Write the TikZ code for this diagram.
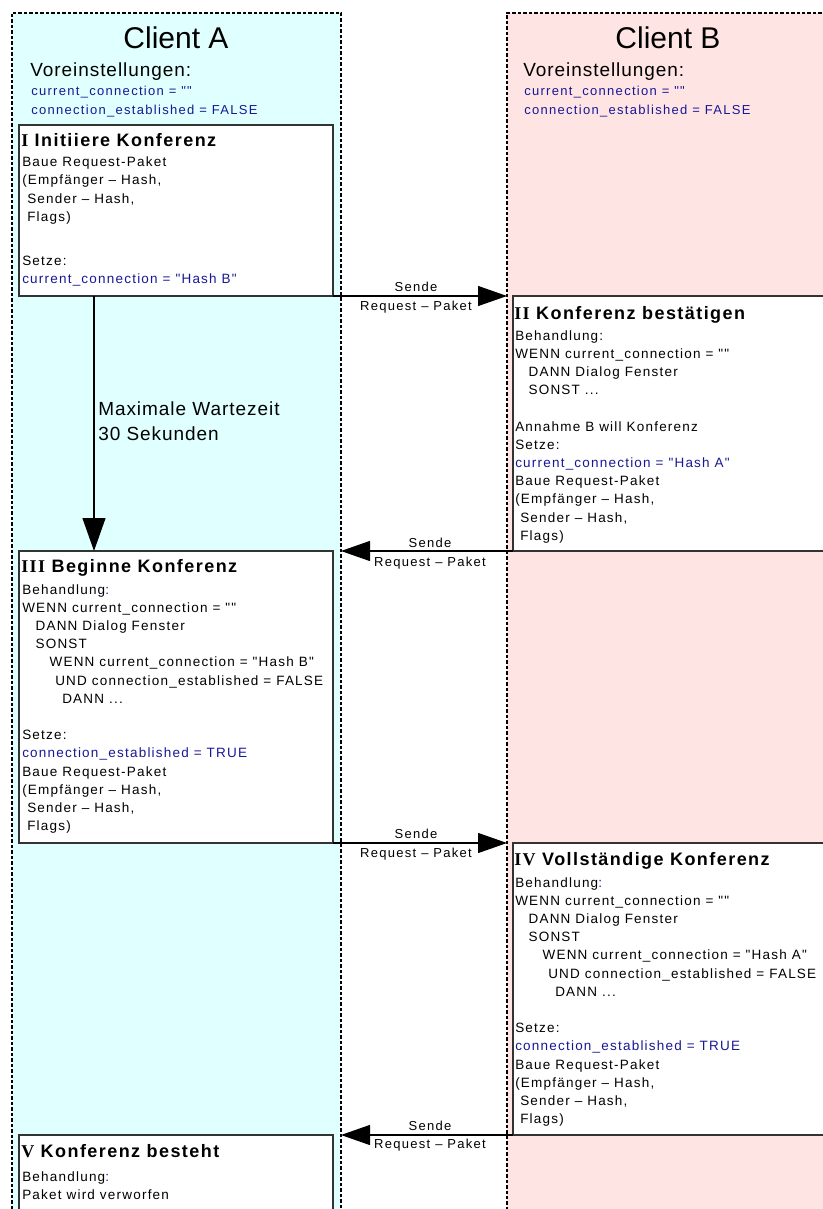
\documentclass[tikz,border=0pt]{standalone}
\usepackage{fontspec}
\usetikzlibrary{arrows.meta,fit}

% Fonts: sans text with a little tracking, serif numerals in the step headings
\newfontfamily\fBody{Liberation Sans}[LetterSpace=9]
\newfontfamily\fLabel{Liberation Sans}[LetterSpace=10]
\newfontfamily\fMid{Liberation Sans}[LetterSpace=5]
\newfontfamily\fTitle{Liberation Sans}
\newfontfamily\fHead{Liberation Sans}[LetterSpace=8]
\newfontfamily\fNum{Liberation Serif}[LetterSpace=8]

\definecolor{laneAfill}{RGB}{224,255,255}
\definecolor{laneBfill}{RGB}{255,228,228}
\definecolor{varblue}{RGB}{24,24,150}

\newcommand{\vb}[1]{\textcolor{varblue}{#1}}
\newcommand{\ind}[1]{\hspace*{#1}}
\newcommand{\boxhead}[2]{{\fNum\bfseries #1} #2}

% multi-line text nodes are placed by the baseline of their last line
\tikzset{
  lane/.style={draw=black, line width=0.9pt, dash pattern=on 2.6pt off 1.5pt,
    inner sep=0pt, outer sep=0pt},
  stepbox/.style={draw=black!80, line width=1.2pt, fill=white, inner sep=0pt, outer sep=0pt},
  msg/.style={line width=0.9pt, -{Triangle[length=21.75pt,width=15pt]}},
  waitarrow/.style={line width=0.9pt, -{Triangle[length=24.75pt,width=17.25pt]}},
  body/.style={anchor=base west, align=left, inner sep=0pt,
    font=\fBody\fontsize{10.125pt}{13.65pt}\selectfont},
  head/.style={anchor=base west, inner sep=0pt,
    font=\fHead\bfseries\fontsize{13.5pt}{16pt}\selectfont},
  lbl/.style={anchor=base, inner sep=0pt, font=\fLabel\fontsize{9.75pt}{12pt}\selectfont},
  preset/.style={anchor=base west, align=left, inner sep=0pt, text=varblue,
    font=\fLabel\fontsize{9.75pt}{14.25pt}\selectfont},
  lanetitle/.style={inner sep=0pt, font=\fTitle\fontsize{22.5pt}{26pt}\selectfont},
  midtext/.style={anchor=base west, align=left, inner sep=0pt,
    font=\fMid\fontsize{14.25pt}{18.75pt}\selectfont},
}

\begin{document}
\begin{tikzpicture}[x=0.75pt,y=-0.75pt]
  \clip (0,0) rectangle (823,1209);
  \fill[white] (0,0) rectangle (823,1209);

  % swim lanes
  \node[lane, fill=laneAfill, fit={(12,13) (341,1240)}] (laneA) {};
  \node[lane, fill=laneBfill, fit={(507,13) (860,1240)}] (laneB) {};

  \node[lanetitle] (titleA) at (176,38) {Client A};
  \node[lanetitle] (titleB) at (668,38) {Client B};

  \node[midtext] (presetA) at (30,77) {Voreinstellungen:};
  \node[preset] (varsA) at (31,114.5) {current\_connection = ""\\connection\_established = FALSE};
  \node[midtext] (presetB) at (523,77) {Voreinstellungen:};
  \node[preset] (varsB) at (524,114.5) {current\_connection = ""\\connection\_established = FALSE};

  % step boxes
  \node[stepbox, fit={(19,125) (333,296)}] (b1) {};
  \node[stepbox, fit={(513,296) (860,551)}] (b2) {};
  \node[stepbox, fit={(19,551) (333,843)}] (b3) {};
  \node[stepbox, fit={(513,843) (860,1135)}] (b4) {};
  \node[stepbox, fit={(19,1135) (333,1240)}] (b5) {};

  % step I
  \node[head] (h1) at (21,146.5) {\boxhead{I}{Initiiere Konferenz}};
  \node[body] (t1) at (22,283.5) {Baue Request-Paket\\(Empfänger – Hash,\\
    \ind{3.75pt}Sender – Hash,\\\ind{3.75pt}Flags)\\[19.3pt]
    Setze:\\\vb{current\_connection = "Hash B"}};

  % step II
  \node[head] (h2) at (514,319.5) {\boxhead{II}{Konferenz bestätigen}};
  \node[body] (t2) at (515,540.2) {Behandlung:\\WENN current\_connection = ""\\
    \ind{10pt}DANN Dialog Fenster\\\ind{10pt}SONST ...\\[13.65pt]
    Annahme B will Konferenz\\Setze:\\\vb{current\_connection = "Hash A"}\\
    Baue Request-Paket\\(Empfänger – Hash,\\\ind{3.75pt}Sender – Hash,\\\ind{3.75pt}Flags)};

  % step III
  \node[head] (h3) at (21,572.5) {\boxhead{III}{Beginne Konferenz}};
  \node[body] (t3) at (22,830.6) {Behandlung\vb{:}\\WENN current\_connection = ""\\
    \ind{10pt}DANN Dialog Fenster\\\ind{10pt}SONST\\
    \ind{20.5pt}WENN current\_connection = "Hash B"\\
    \ind{24.75pt}UND connection\_established = FALSE\\
    \ind{30pt}DANN ...\\[13.65pt]
    Setze:\\\vb{connection\_established = TRUE}\\
    Baue Request-Paket\\(Empfänger – Hash,\\\ind{3.75pt}Sender – Hash,\\\ind{3.75pt}Flags)};

  % step IV
  \node[head] (h4) at (514,865.5) {\boxhead{IV}{Vollständige Konferenz}};
  \node[body] (t4) at (515,1123.6) {Behandlung\vb{:}\\WENN current\_connection = ""\\
    \ind{10pt}DANN Dialog Fenster\\\ind{10pt}SONST\\
    \ind{20.5pt}WENN current\_connection = "Hash A"\\
    \ind{24.75pt}UND connection\_established = FALSE\\
    \ind{30pt}DANN ...\\[13.65pt]
    Setze:\\\vb{connection\_established = TRUE}\\
    Baue Request-Paket\\(Empfänger – Hash,\\\ind{3.75pt}Sender – Hash,\\\ind{3.75pt}Flags)};

  % step V
  \node[head] (h5) at (21,1157.5) {\boxhead{V}{Konferenz besteht}};
  \node[body] (t5) at (22,1199.2) {Behandlung\vb{:}\\Paket wird verworfen};

  % messages between the clients
  \draw[msg] (b1.south east) -- (b1.south east -| laneB.west);
  \draw[msg] (b2.south west) -- (b2.south west -| laneA.east);
  \draw[msg] (b3.south east) -- (b3.south east -| laneB.west);
  \draw[msg] (b4.south west) -- (b4.south west -| laneA.east);

  \node[lbl] (s1) at (416,291.5) {Sende};
  \node[lbl] (r1) at (416,310.5) {Request – Paket};
  \node[lbl] (s2) at (430,547.5) {Sende};
  \node[lbl] (r2) at (430,566.5) {Request – Paket};
  \node[lbl] (s3) at (416,838.5) {Sende};
  \node[lbl] (r3) at (416,857.5) {Request – Paket};
  \node[lbl] (s4) at (430,1130.5) {Sende};
  \node[lbl] (r4) at (430,1148.5) {Request – Paket};

  % timeout on client A
  \coordinate (waitTop) at (94,296);
  \draw[waitarrow] (waitTop) -- (waitTop |- b3.north);
  \node[midtext] (waitLbl) at (98,440) {Maximale Wartezeit\\30 Sekunden};
\end{tikzpicture}
\end{document}
